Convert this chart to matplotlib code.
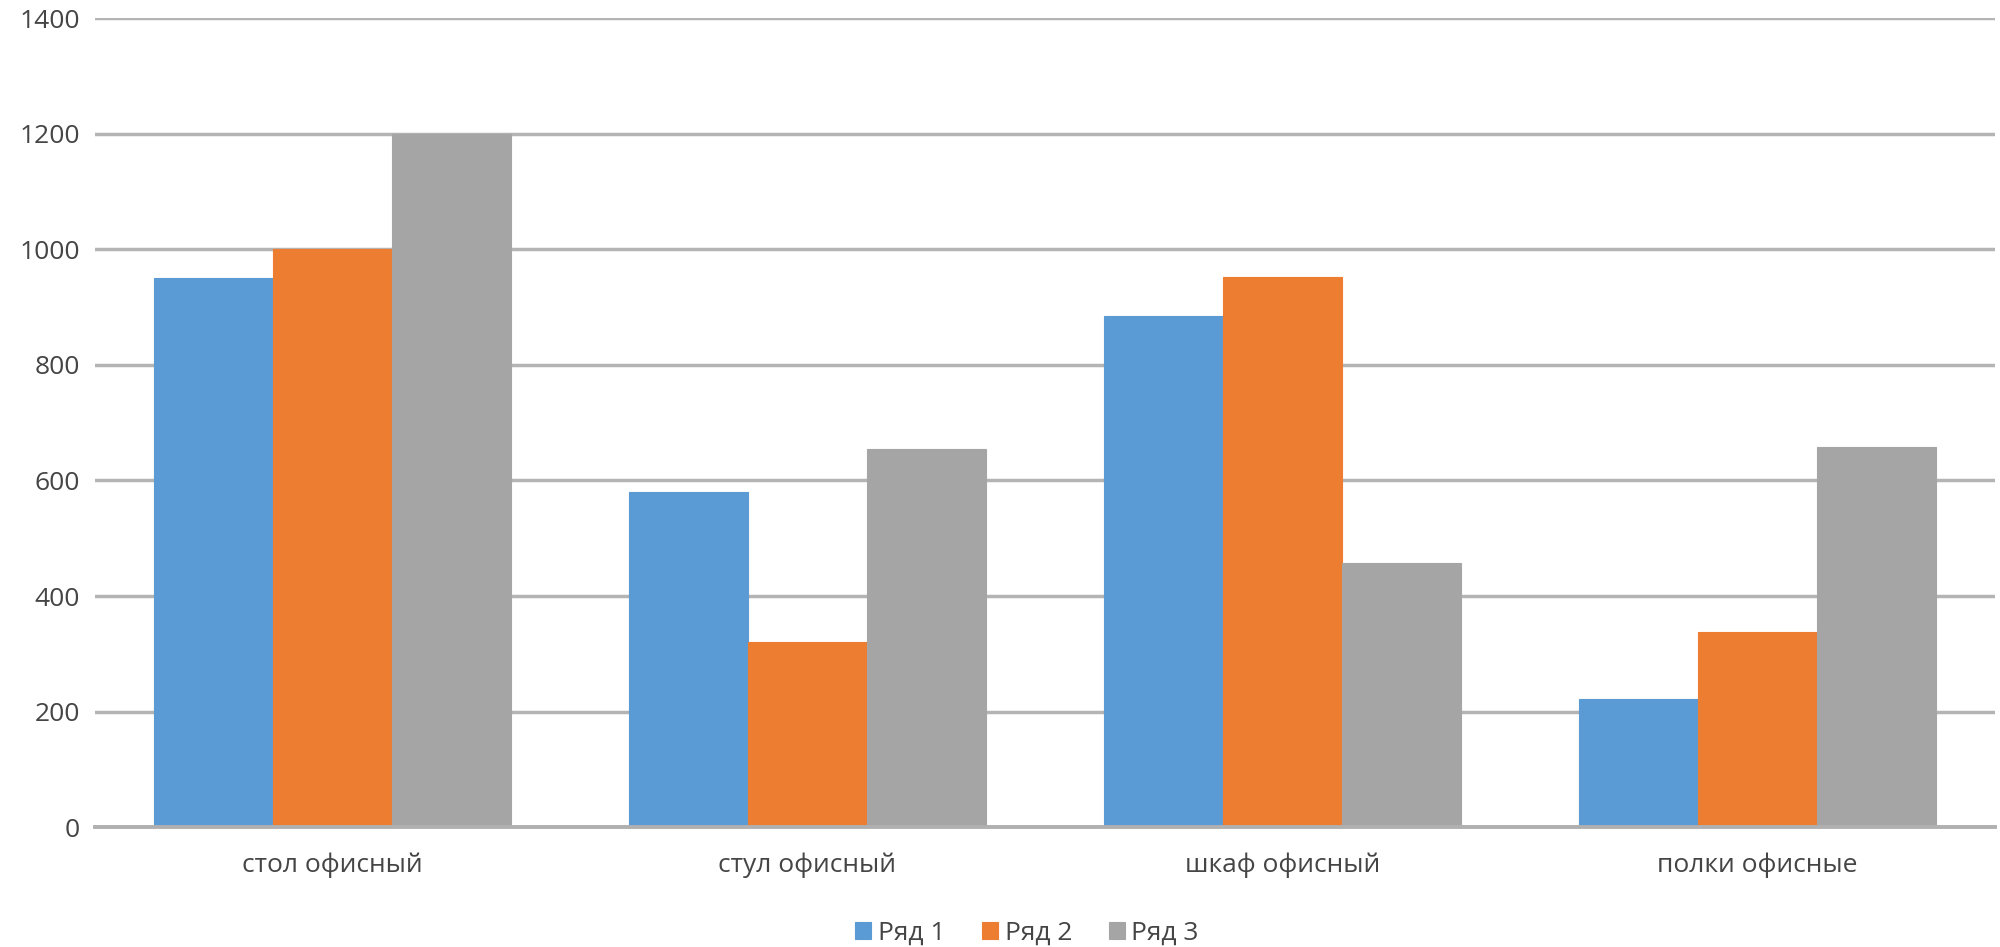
import matplotlib
matplotlib.use("Agg")
import matplotlib.pyplot as plt
import numpy as np

# Данные диаграммы
categories = ["стол офисный", "стул офисный", "шкаф офисный", "полки офисные"]
series_names = ["Ряд 1", "Ряд 2", "Ряд 3"]
row1 = [950, 580, 884, 222]
row2 = [1000, 320, 953, 338]
row3 = [1200, 655, 458, 658]
colors = ["#5B9BD5", "#ED7D31", "#A5A5A5"]

plt.rcParams['font.family'] = ['Open Sans', 'DejaVu Sans']

fig = plt.figure(figsize=(20, 9.47), dpi=100)
ax = fig.add_axes([0.0475, 0.1267, 0.95, 0.8538])

x = np.arange(len(categories))
width = 0.251
for i, (vals, name, col) in enumerate(zip([row1, row2, row3], series_names, colors)):
    ax.bar(x + (i - 1) * width, vals, width, color=col, label=name,
           edgecolor=col, linewidth=0.8, zorder=3)

ax.set_xlim(-0.5, len(categories) - 0.5)
ax.set_ylim(0, 1400)
ax.set_yticks(range(0, 1401, 200))
ax.set_xticks(x)
ax.set_xticklabels(categories)

# сетка и оси в стиле Excel
ax.grid(axis='y', color='#B4B4B4', linewidth=2.5, zorder=0)
for s in ['left', 'right', 'top']:
    ax.spines[s].set_visible(False)
ax.spines['bottom'].set_color('#B0B0B0')
ax.spines['bottom'].set_linewidth(2.8)
ax.spines['bottom'].set_zorder(4)

tick_col = '#454545'
ax.tick_params(axis='y', length=0, pad=11, labelsize=19, labelcolor=tick_col)
ax.tick_params(axis='x', length=0, pad=18, labelsize=19, labelcolor=tick_col)

fig.legend(loc='center', bbox_to_anchor=(0.5135, 0.0148), ncol=3, frameon=False,
           fontsize=19, labelcolor=tick_col, handlelength=0.6, handleheight=0.6,
           handletextpad=0.25, columnspacing=1.4)

fig.savefig("out.png", dpi=100)
